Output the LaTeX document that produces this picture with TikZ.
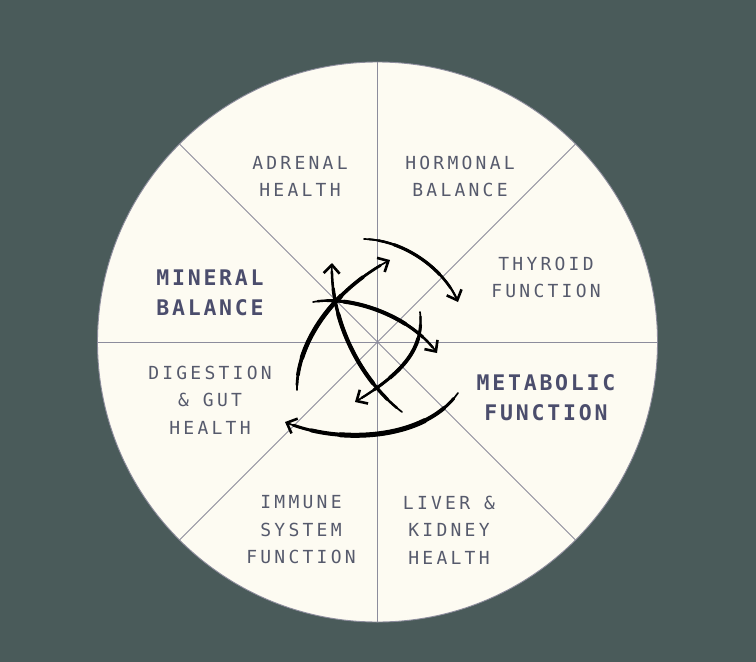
\documentclass[tikz,border=0pt]{standalone}
\usepackage{fontspec}
\usetikzlibrary{arrows.meta}
\newfontfamily\labfont[LetterSpace=18]{DejaVu Sans Mono}
\newfontfamily\blabfont[LetterSpace=13]{DejaVu Sans Mono}
\definecolor{bg}{HTML}{4A5B5A}
\definecolor{disc}{HTML}{FDFBF2}
\definecolor{rulec}{HTML}{8C8C9C}
\definecolor{txt}{HTML}{565A6C}
\definecolor{btxt}{HTML}{4B4D6C}
% sub-segment of a cubic Bezier (de Casteljau), drawn with a given width
\newcommand\subseg[3]{%
  \pgfmathsetmacro\ta{#1}\pgfmathsetmacro\tb{#2}%
  \pgfmathsetmacro\ua{1-\ta}\pgfmathsetmacro\ub{1-\tb}%
  \pgfmathsetmacro\dt{\tb-\ta}%
  \pgfmathsetmacro\qxa{\ua*\ua*\ua*\cxa+3*\ua*\ua*\ta*\cxb+3*\ua*\ta*\ta*\cxc+\ta*\ta*\ta*\cxd}%
  \pgfmathsetmacro\qya{\ua*\ua*\ua*\cya+3*\ua*\ua*\ta*\cyb+3*\ua*\ta*\ta*\cyc+\ta*\ta*\ta*\cyd}%
  \pgfmathsetmacro\qxd{\ub*\ub*\ub*\cxa+3*\ub*\ub*\tb*\cxb+3*\ub*\tb*\tb*\cxc+\tb*\tb*\tb*\cxd}%
  \pgfmathsetmacro\qyd{\ub*\ub*\ub*\cya+3*\ub*\ub*\tb*\cyb+3*\ub*\tb*\tb*\cyc+\tb*\tb*\tb*\cyd}%
  \pgfmathsetmacro\qxb{\qxa+\dt*(\ua*\ua*(\cxb-\cxa)+2*\ua*\ta*(\cxc-\cxb)+\ta*\ta*(\cxd-\cxc))}%
  \pgfmathsetmacro\qyb{\qya+\dt*(\ua*\ua*(\cyb-\cya)+2*\ua*\ta*(\cyc-\cyb)+\ta*\ta*(\cyd-\cyc))}%
  \pgfmathsetmacro\qxc{\qxd-\dt*(\ub*\ub*(\cxb-\cxa)+2*\ub*\tb*(\cxc-\cxb)+\tb*\tb*(\cxd-\cxc))}%
  \pgfmathsetmacro\qyc{\qyd-\dt*(\ub*\ub*(\cyb-\cya)+2*\ub*\tb*(\cyc-\cyb)+\tb*\tb*(\cyd-\cyc))}%
  \draw[black,line width=#3,line cap=round] (\qxa,\qya) .. controls (\qxb,\qyb) and (\qxc,\qyc) .. (\qxd,\qyd);}
% hand-drawn tapered arrow: 4 points (x,y) and the largest stroke width (pt)
\newcommand\handarrow[9]{%
  \def\cxa{#1}\def\cya{#2}\def\cxb{#3}\def\cyb{#4}%
  \def\cxc{#5}\def\cyc{#6}\def\cxd{#7}\def\cyd{#8}%
  \draw[arr] (#1,#2) .. controls (#3,#4) and (#5,#6) .. (#7,#8);
  \pgfmathsetmacro\wa{0.6*#9}\pgfmathsetmacro\wb{0.8*#9}%
  \subseg{0.04}{0.95}{\wa pt}%
  \subseg{0.12}{0.85}{\wb pt}%
  \subseg{0.25}{0.7}{#9pt}}
\begin{document}
\begin{tikzpicture}[x=1pt,y=-1pt,
  lab/.style={text=txt,font=\labfont\fontsize{18}{27.5}\selectfont,align=center,inner sep=0pt},
  blab/.style={text=btxt,font=\blabfont\bfseries\fontsize{21.5}{30}\selectfont,align=center,inner sep=0pt},
  divider/.style={draw=rulec,line width=0.9pt},
  arr/.style={draw=black,line width=1.7pt,line cap=round,
     -{Straight Barb[length=8.5pt,width=16pt,line width=2.6pt]}}]
\fill[bg] (0,0) rectangle (756,662);
\useasboundingbox (0,0) rectangle (756,662);
\coordinate (c) at (377.5,342);
\node[circle,minimum size=560pt,inner sep=0pt,outer sep=0pt,fill=disc,draw=rulec,line width=0.9pt] (wheel) at (c) {};
\draw[divider] (wheel.north) -- (wheel.south);
\draw[divider] (wheel.west) -- (wheel.east);
\draw[divider] (wheel.north east) -- (wheel.south west);
\draw[divider] (wheel.north west) -- (wheel.south east);
% labels
\node[lab] (adrenal) at (300,176.5) {ADRENAL\\HEALTH};
\node[lab] (hormonal) at (460,176.5) {HORMONAL\\BALANCE};
\node[lab] (thyroid) at (546,277.5) {THYROID\\FUNCTION};
\node[lab] (digestion) at (210,400) {DIGESTION\\\& GUT\\HEALTH};
\node[lab] (immune) at (301,530) {IMMUNE\\SYSTEM\\FUNCTION};
\node[lab] (liver) at (449,530) {LIVER \&\\KIDNEY\\HEALTH};
\node[blab] (mineral) at (210,293) {MINERAL\\BALANCE};
\node[blab] (metabolic) at (546,397.5) {METABOLIC\\FUNCTION};
% arrows
\handarrow{364}{239}{405}{240}{445}{270}{458}{302}{3.2}
\handarrow{297}{390}{296}{350}{325}{295}{390}{260}{4.6}
\handarrow{402}{412}{360}{380}{330}{320}{332}{263}{4.2}
\handarrow{313}{302}{350}{295}{410}{315}{437}{353}{4.0}
\handarrow{420}{312}{425}{350}{400}{375}{355}{402}{3.8}
\handarrow{458}{393}{425}{440}{340}{445}{285}{422}{5.0}
\end{tikzpicture}
\end{document}
